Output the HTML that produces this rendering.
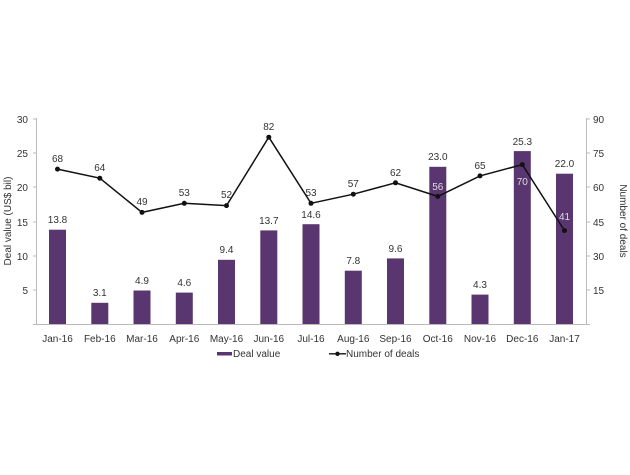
<!DOCTYPE html>
<html><head><style>body{margin:0;background:#fff}svg{font-family:"Liberation Sans",sans-serif}</style></head><body>
<svg width="630" height="470" viewBox="0 0 630 470">
<g stroke="#bbb" stroke-width="1" fill="none">
<line x1="36.5" y1="118" x2="36.5" y2="324"/>
<line x1="586.5" y1="118" x2="586.5" y2="324"/>
<line x1="33" y1="324.5" x2="590" y2="324.5"/>
<line x1="33" y1="119" x2="37" y2="119"/><line x1="33" y1="153" x2="37" y2="153"/><line x1="33" y1="187" x2="37" y2="187"/><line x1="33" y1="222" x2="37" y2="222"/><line x1="33" y1="256" x2="37" y2="256"/><line x1="33" y1="290" x2="37" y2="290"/>
<line x1="586" y1="119" x2="590" y2="119"/><line x1="586" y1="153" x2="590" y2="153"/><line x1="586" y1="187" x2="590" y2="187"/><line x1="586" y1="222" x2="590" y2="222"/><line x1="586" y1="256" x2="590" y2="256"/><line x1="586" y1="290" x2="590" y2="290"/>
</g>
<g font-size="10" fill="#333" text-anchor="end">
<text x="28" y="123">30</text><text x="28" y="157">25</text><text x="28" y="191">20</text><text x="28" y="226">15</text><text x="28" y="260">10</text><text x="28" y="294">5</text>
</g>
<g font-size="10" fill="#333">
<text x="593" y="123">90</text><text x="593" y="157">75</text><text x="593" y="191">60</text><text x="593" y="226">45</text><text x="593" y="260">30</text><text x="593" y="294">15</text>
</g>
<text transform="translate(11,221) rotate(-90)" font-size="10" fill="#333" text-anchor="middle">Deal value (US$ bil)</text>
<text transform="translate(620,221) rotate(90)" font-size="10" fill="#333" text-anchor="middle">Number of deals</text>
<g fill="#5a3670">
<rect x="49" y="229.7" width="17" height="94.3"/>
<rect x="91.3" y="302.8" width="17" height="21.2"/>
<rect x="133.5" y="290.5" width="17" height="33.5"/>
<rect x="175.8" y="292.6" width="17" height="31.4"/>
<rect x="218" y="259.8" width="17" height="64.2"/>
<rect x="260.3" y="230.4" width="17" height="93.6"/>
<rect x="302.5" y="224.2" width="17" height="99.8"/>
<rect x="344.8" y="270.7" width="17" height="53.3"/>
<rect x="387" y="258.4" width="17" height="65.6"/>
<rect x="429.3" y="166.8" width="17" height="157.2"/>
<rect x="471.5" y="294.6" width="17" height="29.4"/>
<rect x="513.8" y="151.1" width="17" height="172.9"/>
<rect x="556" y="173.7" width="17" height="150.3"/>
</g>
<g font-size="10" fill="#333" text-anchor="middle">
<text x="57.5" y="223">13.8</text><text x="99.8" y="296">3.1</text><text x="142" y="284">4.9</text><text x="184.3" y="286">4.6</text><text x="226.5" y="253">9.4</text><text x="268.8" y="224">13.7</text><text x="311" y="218">14.6</text><text x="353.3" y="264">7.8</text><text x="395.5" y="252">9.6</text><text x="437.8" y="160">23.0</text><text x="480" y="288">4.3</text><text x="522.3" y="145">25.3</text><text x="564.5" y="167">22.0</text>
</g>
<polyline fill="none" stroke="#111" stroke-width="1.5" points="57.5,169.1 99.8,178.2 142,212.4 184.3,203.3 226.5,205.6 268.8,137.2 311,203.3 353.3,194.2 395.5,182.8 437.8,196.4 480,175.9 522.3,164.6 564.5,230.6"/>
<g fill="#111">
<circle cx="57.5" cy="169.1" r="2.5"/><circle cx="99.8" cy="178.2" r="2.5"/><circle cx="142" cy="212.4" r="2.5"/><circle cx="184.3" cy="203.3" r="2.5"/><circle cx="226.5" cy="205.6" r="2.5"/><circle cx="268.8" cy="137.2" r="2.5"/><circle cx="311" cy="203.3" r="2.5"/><circle cx="353.3" cy="194.2" r="2.5"/><circle cx="395.5" cy="182.8" r="2.5"/><circle cx="437.8" cy="196.4" r="2.5"/><circle cx="480" cy="175.9" r="2.5"/><circle cx="522.3" cy="164.6" r="2.5"/><circle cx="564.5" cy="230.6" r="2.5"/>
</g>
<g font-size="10" fill="#333" text-anchor="middle">
<text x="57.5" y="162">68</text><text x="99.8" y="171">64</text><text x="142" y="205">49</text><text x="184.3" y="196">53</text><text x="226.5" y="198">52</text><text x="268.8" y="130">82</text><text x="311" y="196">53</text><text x="353.3" y="187">57</text><text x="395.5" y="176">62</text><text x="480" y="169">65</text>
</g>
<g font-size="10" fill="#ddd" text-anchor="middle">
<text x="437.8" y="190">56</text><text x="522.3" y="185">70</text><text x="564.5" y="220">41</text>
</g>
<g font-size="10" fill="#333" text-anchor="middle">
<text x="57.5" y="342">Jan-16</text><text x="99.8" y="342">Feb-16</text><text x="142" y="342">Mar-16</text><text x="184.3" y="342">Apr-16</text><text x="226.5" y="342">May-16</text><text x="268.8" y="342">Jun-16</text><text x="311" y="342">Jul-16</text><text x="353.3" y="342">Aug-16</text><text x="395.5" y="342">Sep-16</text><text x="437.8" y="342">Oct-16</text><text x="480" y="342">Nov-16</text><text x="522.3" y="342">Dec-16</text><text x="564.5" y="342">Jan-17</text>
</g>
<rect x="217" y="352" width="15" height="3.5" fill="#5a3670"/>
<text x="233" y="357" font-size="10" fill="#333">Deal value</text>
<line x1="329" y1="353.8" x2="346" y2="353.8" stroke="#111" stroke-width="1.3"/>
<circle cx="337.5" cy="353.8" r="2.2" fill="#111"/>
<text x="346" y="357" font-size="10" fill="#333">Number of deals</text>
</svg>
</body></html>
